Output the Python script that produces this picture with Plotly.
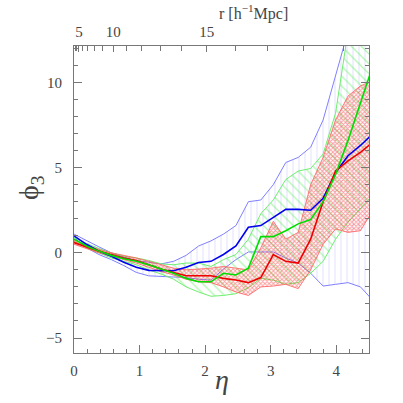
import plotly.graph_objects as go

# eta grid (shared by all series)
eta = [0.0, 0.19, 0.38, 0.57, 0.76, 0.95, 1.14, 1.33, 1.52, 1.71, 1.90, 2.09, 2.28,
       2.47, 2.66, 2.85, 3.04, 3.23, 3.42, 3.61, 3.80, 3.99, 4.18, 4.37, 4.56]

blue_mean = [1.0, 0.5, 0.1, -0.2, -0.55, -0.85, -1.03, -1.03, -1.05, -0.85, -0.57, -0.5, -0.1,
             0.4, 1.5, 1.6, 2.05, 2.55, 2.55, 2.5, 3.2, 4.7, 5.7, 6.3, 7.0]
blue_hi = [1.1, 0.7, 0.35, 0.0, -0.25, -0.45, -0.55, -0.65, -0.5, -0.15, 0.4, 0.7, 1.1,
           1.6, 3.0, 3.1, 4.0, 5.3, 5.6, 6.2, 7.8, 10.5, 13.0, 14.0, 15.0]
blue_lo = [0.9, 0.3, -0.1, -0.4, -0.75, -1.15, -1.35, -1.4, -1.42, -1.45, -1.55, -1.6, -0.95,
           -0.4, 0.05, 0.05, 0.05, -0.3, -0.6, -1.2, -1.95, -1.85, -1.75, -2.0, -2.8]

green_mean = [0.8, 0.4, 0.1, -0.15, -0.35, -0.5, -0.7, -0.95, -1.2, -1.5, -1.7, -1.7, -1.2,
              -1.3, -0.9, 0.95, 0.95, 1.3, 1.7, 1.95, 3.0, 4.6, 6.6, 8.8, 11.0]
green_hi = [0.9, 0.55, 0.25, 0.0, -0.2, -0.3, -0.45, -0.65, -0.7, -0.6, -0.6, -0.8, -0.4,
            -0.1, 0.8, 2.3, 3.1, 4.3, 4.8, 4.95, 5.8, 8.2, 13.0, 15.0, 16.0]
green_lo = [0.7, 0.3, 0.0, -0.3, -0.5, -0.7, -1.0, -1.25, -1.55, -2.0, -2.3, -2.55, -2.5,
            -2.4, -2.05, -1.5, -1.6, -1.85, -1.75, -1.2, -0.5, 0.8, 1.8, 2.6, 3.4]

red_mean = [0.6, 0.35, 0.1, -0.1, -0.3, -0.45, -0.7, -0.95, -1.15, -1.35, -1.35, -1.35, -1.5,
            -1.6, -1.75, -1.45, -0.1, -0.5, -0.6, 0.8, 3.0, 4.8, 5.4, 5.9, 6.5]
red_hi = [0.75, 0.45, 0.2, 0.0, -0.15, -0.3, -0.5, -0.7, -0.9, -1.0, -0.95, -0.9, -0.8,
          -0.9, -1.0, 0.3, 1.85, 0.8, 1.2, 4.0, 5.6, 7.8, 9.2, 9.8, 10.1]
red_lo = [0.5, 0.25, 0.0, -0.2, -0.4, -0.6, -0.85, -1.1, -1.3, -1.55, -1.7, -1.75, -2.0,
          -2.3, -2.5, -2.0, -1.95, -1.85, -2.1, -1.0, 0.5, 1.4, 1.2, 1.3, 2.5]

# top axis: r [h^-1 Mpc], eta = 6e-4 * r^3
r_major = [5, 10, 15]
r_minor = [1, 2, 3, 4, 6, 7, 8, 9, 11, 12, 13, 14, 16, 17, 18, 19]
def r_to_eta(r): return 6e-4 * r ** 3

FONT = "Liberation Serif"
TXT = "#444444"
fig = go.Figure()

def band(lo, hi, edge, pat, fg, size, sol):
    fig.add_trace(go.Scatter(x=eta, y=lo, mode="lines", line=dict(color=edge, width=1),
                             showlegend=False, hoverinfo="skip"))
    fig.add_trace(go.Scatter(x=eta, y=hi, mode="lines", line=dict(color=edge, width=1),
                             fill="tonexty", fillcolor="rgba(0,0,0,0)",
                             fillpattern=dict(shape=pat, fgcolor=fg, bgcolor="rgba(0,0,0,0)",
                                              size=size, solidity=sol),
                             showlegend=False, hoverinfo="skip"))

band(blue_lo, blue_hi, "#8080ff", "|", "#a8a8ff", 6, 0.12)
band(green_lo, green_hi, "#70ee70", "\\", "#60ee60", 7, 0.18)
band(red_lo, red_hi, "rgba(255,100,100,0.85)", "x", "#ff3030", 3, 0.5)

fig.add_trace(go.Scatter(x=eta, y=blue_mean, mode="lines", line=dict(color="#0000ee", width=1.6),
                         showlegend=False))
fig.add_trace(go.Scatter(x=eta, y=red_mean, mode="lines", line=dict(color="#ee0000", width=1.6),
                         showlegend=False, xaxis="x2"))
fig.add_trace(go.Scatter(x=eta, y=green_mean, mode="lines", line=dict(color="#00dd00", width=1.6),
                         showlegend=False, xaxis="x3"))

# plot area on the page spans x 74..369, y 46..353 (body margin removed below)
ML, MT, MR, MB = 74, 46, 34, 50
PW, PH = 295, 307
def px(xp): return (xp - ML) / PW
def py(yp): return (MT + PH - yp) / PH

axcol = "#777777"
tf = dict(family=FONT, size=15, color=TXT)
fig.update_layout(
    width=403, height=403, paper_bgcolor="white", plot_bgcolor="white",
    margin=dict(l=ML, r=MR, t=MT, b=MB, autoexpand=False),
    xaxis=dict(range=[0, 4.5], tickvals=[0, 1, 2, 3, 4], ticks="inside", ticklen=8,
               tickcolor=axcol, showline=True, linecolor=axcol, linewidth=1,
               showgrid=False, zeroline=False, tickfont=tf, automargin=False,
               ticklabelstandoff=4,
               minor=dict(ticks="inside", dtick=0.2, ticklen=4, tickcolor=axcol)),
    xaxis2=dict(range=[0, 4.5], overlaying="x", side="top", anchor="y",
                tickvals=[r_to_eta(r) for r in r_major], ticktext=[str(r) for r in r_major],
                ticks="inside", ticklen=6, tickcolor=axcol,
                showline=True, linecolor=axcol, linewidth=1, showgrid=False,
                zeroline=False, tickfont=tf, automargin=False, ticklabelstandoff=2),
    xaxis3=dict(range=[0, 4.5], overlaying="x", side="top", anchor="y",
                tickvals=[r_to_eta(r) for r in r_minor], showticklabels=False,
                ticks="inside", ticklen=5, tickcolor=axcol,
                showline=False, showgrid=False, zeroline=False, automargin=False),
    yaxis=dict(range=[-5.88, 12.14], tick0=0, dtick=5, ticks="inside", ticklen=8,
               tickcolor=axcol, showline=True, linecolor=axcol, linewidth=1, mirror="ticks",
               showgrid=False, zeroline=False, tickfont=tf, automargin=False,
               ticklabelstandoff=8,
               minor=dict(ticks="inside", dtick=1, ticklen=4, tickcolor=axcol)),
    annotations=[
        dict(text="<i>η</i>", x=px(222), y=py(379), xref="paper", yref="paper",
             xanchor="center", yanchor="middle", showarrow=False,
             font=dict(family=FONT, size=28, color=TXT)),
        dict(text="ϕ<sub>3</sub>", x=px(30), y=py(188), xref="paper", yref="paper",
             xanchor="center", yanchor="middle", textangle=-90, showarrow=False,
             font=dict(family=FONT, size=28, color=TXT)),
        dict(text="r [h<sup>−1</sup>Mpc]", x=px(253), y=py(13), xref="paper", yref="paper",
             xanchor="center", yanchor="middle",
             showarrow=False, font=dict(family=FONT, size=16, color=TXT)),
    ],
)
fig.write_html("out.html", config={"displayModeBar": False},
               post_script="document.body.style.margin='0';")
